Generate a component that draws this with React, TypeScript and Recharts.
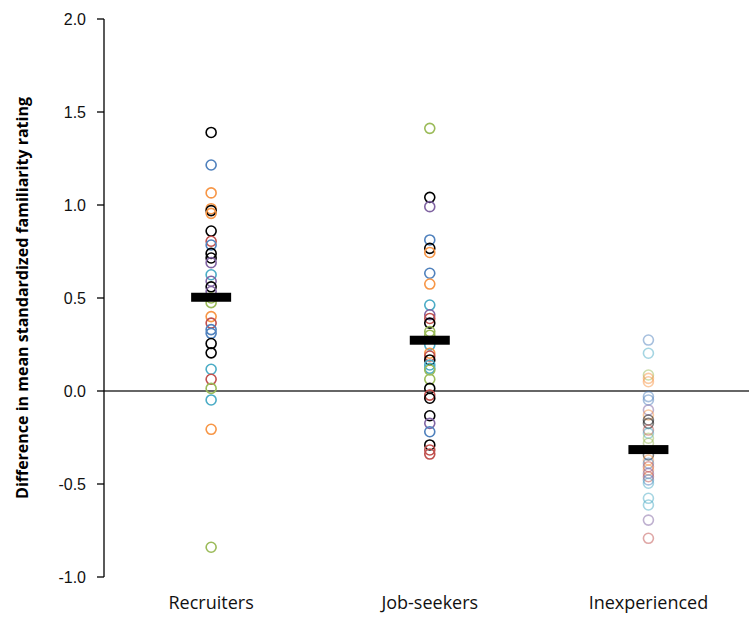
import React from 'react';
import { ScatterChart, Scatter, XAxis, YAxis, ReferenceLine } from 'recharts';

// group positions on the x axis and their labels
const groupPositions = [1, 2, 3];
const groupNames = ['Recruiters', 'Job-seekers', 'Inexperienced'];
const yTicks = [-1, -0.5, 0, 0.5, 1, 1.5, 2];

// per-item differences, one list per group, with the item's colour key alongside
const recruitersValues = [
  1.39, 1.215, 1.065, 0.98, 0.97, 0.955, 0.86, 0.805, 0.785, 0.74, 0.715, 0.69, 0.625, 0.59, 0.56,
  0.535, 0.5, 0.475, 0.4, 0.365, 0.33, 0.31, 0.255, 0.205, 0.117, 0.063, 0.014, -0.048, -0.206, -0.84,
];
const recruitersColors = [
  'black', 'blue', 'orange', 'orange', 'black', 'orange', 'black', 'red', 'blue', 'black', 'black', 'purple', 'teal', 'purple', 'black',
  'purple', 'green', 'green', 'orange', 'red', 'blue', 'blue', 'black', 'black', 'teal', 'red', 'green', 'teal', 'orange', 'green',
];

const jobSeekersValues = [
  1.412, 1.041, 0.991, 0.812, 0.767, 0.745, 0.633, 0.575, 0.462, 0.41, 0.39, 0.365, 0.32, 0.3, 0.247, 0.203,
  0.188, 0.167, 0.14, 0.122, 0.113, 0.063, 0.014, -0.022, -0.039, -0.133, -0.174, -0.219, -0.29, -0.317, -0.339,
];
const jobSeekersColors = [
  'green', 'black', 'purple', 'blue', 'black', 'orange', 'blue', 'orange', 'teal', 'purple', 'red', 'black', 'green', 'green', 'teal', 'orange',
  'red', 'black', 'teal', 'teal', 'green', 'green', 'black', 'red', 'black', 'black', 'purple', 'blue', 'black', 'red', 'red',
];

const inexperiencedValues = [
  0.274, 0.203, 0.086, 0.068, 0.05, -0.03, -0.048, -0.102, -0.129, -0.156, -0.174, -0.21, -0.227, -0.254,
  -0.281, -0.344, -0.371, -0.389, -0.407, -0.425, -0.443, -0.461, -0.478, -0.496, -0.577, -0.613, -0.694, -0.792,
];
const inexperiencedColors = [
  'blue', 'teal', 'green', 'orange', 'orange', 'blue', 'blue', 'purple', 'orange', 'black', 'black', 'red', 'teal', 'green',
  'green', 'black', 'orange', 'blue', 'red', 'orange', 'purple', 'red', 'blue', 'teal', 'teal', 'teal', 'purple', 'red',
];

// group means
const groupMeans = [0.504, 0.273, -0.315];

const palette: Record<string, string> = {
  black: '#000000',
  blue: '#4F81BD',
  red: '#C0504D',
  green: '#9BBB59',
  purple: '#8064A2',
  teal: '#4BACC6',
  orange: '#F79646',
};

const toPoints = (pos: number, values: number[], colors: string[]) =>
  values.map((v, i) => ({ x: pos, y: v, color: palette[colors[i]] }));

const recruitersData = toPoints(groupPositions[0], recruitersValues, recruitersColors);
const jobSeekersData = toPoints(groupPositions[1], jobSeekersValues, jobSeekersColors);
const inexperiencedData = toPoints(groupPositions[2], inexperiencedValues, inexperiencedColors);
const meanData = groupPositions.map((pos, i) => ({ x: pos, y: groupMeans[i] }));

const RingDot = (opacity: number) => (props: any) => {
  const { cx, cy, payload } = props;
  if (cx == null || cy == null) return null;
  return (
    <circle cx={cx} cy={cy} r={5} fill="none" stroke={payload.color} strokeWidth={1.6} strokeOpacity={opacity} />
  );
};

const MeanBar = (props: any) => {
  const { cx, cy } = props;
  if (cx == null || cy == null) return null;
  return <rect x={cx - 20} y={cy - 4.5} width={40} height={9} fill="#000" />;
};

const tickFont = { fontFamily: '"Liberation Sans", Arial, sans-serif', fontSize: 16, fill: '#111' };

const App: React.FC = () => {
  return (
    <div style={{ position: 'absolute', left: 0, top: 0, background: '#fff' }}>
      <ScatterChart width={749} height={618} margin={{ top: 19, right: 0, bottom: 0, left: 0 }}>
        <XAxis
          type="number"
          dataKey="x"
          domain={[0.51, 3.46]}
          ticks={groupPositions}
          tickFormatter={(v: number) => groupNames[groupPositions.indexOf(v)]}
          axisLine={false}
          tickLine={false}
          tickSize={0}
          tickMargin={19}
          height={41}
          interval={0}
          tick={{ fontFamily: '"Open Sans", sans-serif', fontSize: 18, fill: '#111' }}
        />
        <YAxis
          type="number"
          dataKey="y"
          domain={[-1, 2]}
          ticks={yTicks}
          tickFormatter={(v: number) => v.toFixed(1)}
          width={104}
          tickSize={7}
          tickMargin={11}
          axisLine={{ stroke: '#000', strokeWidth: 1.3 }}
          tickLine={{ stroke: '#000', strokeWidth: 1.3 }}
          tick={tickFont}
          label={{
            value: 'Difference in mean standardized familiarity rating',
            angle: -90,
            position: 'center',
            dx: -30,
            style: { fontFamily: '"Open Sans", sans-serif', fontSize: 16, fontWeight: 700, fill: '#000' },
          }}
        />
        <ReferenceLine y={0} stroke="#333" strokeWidth={1.5} />
        <Scatter data={recruitersData} shape={RingDot(1)} isAnimationActive={false} />
        <Scatter data={jobSeekersData} shape={RingDot(1)} isAnimationActive={false} />
        <Scatter data={inexperiencedData} shape={RingDot(0.5)} isAnimationActive={false} />
        <Scatter data={meanData} shape={MeanBar} isAnimationActive={false} />
      </ScatterChart>
    </div>
  );
};

export default App;
